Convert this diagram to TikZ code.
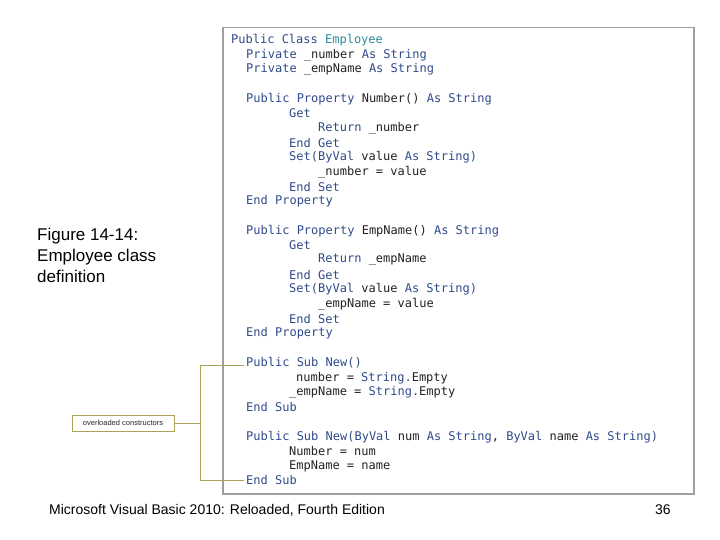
\documentclass[tikz,border=0pt]{standalone}
\usepackage{fontspec}
\setmainfont{Liberation Sans}
\newfontfamily\codefont{DejaVu Sans Mono}
\definecolor{kw}{HTML}{2F4A8A}
\definecolor{tp}{HTML}{2E8A9A}
\definecolor{tx}{HTML}{222222}
\definecolor{olive}{HTML}{A9A257}
\newcommand{\kw}[1]{\textcolor{kw}{#1}}
\begin{document}
\begin{tikzpicture}[x=1pt,y=-1pt,
  code/.style={anchor=west,inner sep=0pt,font=\codefont\fontsize{12}{12}\selectfont,text=tx},
  lbl/.style={anchor=west,inner sep=0pt,font=\fontsize{12}{12}\selectfont},
  brk/.style={draw=olive,line width=0.8pt}]
\useasboundingbox (0,0) rectangle (720,540);
\node[draw=gray!75,line width=1.5pt,minimum width=471pt,minimum height=466pt,anchor=north west,inner sep=0pt] (box) at (222,27) {};
\node[code] (l1) at (231,40) {\kw{Public Class} \textcolor{tp}{Employee}};
\node[code] (l2) at (246,55) {\kw{Private} \_number \kw{As String}};
\node[code] (l3) at (246,69) {\kw{Private} \_empName \kw{As String}};
\node[code] (l4) at (246,99) {\kw{Public Property} Number() \kw{As String}};
\node[code] (l5) at (289,113) {\kw{Get}};
\node[code] (l6) at (318,128) {\kw{Return} \_number};
\node[code] (l7) at (289,143) {\kw{End Get}};
\node[code] (l8) at (289,157) {\kw{Set(ByVal} value \kw{As String)}};
\node[code] (l9) at (318,172) {\_number = value};
\node[code] (l10) at (289,187) {\kw{End Set}};
\node[code] (l11) at (246,201) {\kw{End Property}};
\node[code] (m4) at (246,231) {\kw{Public Property} EmpName() \kw{As String}};
\node[code] (m5) at (289,245) {\kw{Get}};
\node[code] (m6) at (318,260) {\kw{Return} \_empName};
\node[code] (m7) at (289,275) {\kw{End Get}};
\node[code] (m8) at (289,289) {\kw{Set(ByVal} value \kw{As String)}};
\node[code] (m9) at (318,304) {\_empName = value};
\node[code] (m10) at (289,319) {\kw{End Set}};
\node[code] (m11) at (246,333) {\kw{End Property}};
\node[code] (n1) at (246,363) {\kw{Public Sub New()}};
\node[code] (n2) at (296,378) {number = \kw{String.}Empty};
\node[code] (n3) at (289,392) {\_empName = \kw{String.}Empty};
\node[code] (n4) at (246,407) {\kw{End Sub}};
\node[code] (p1) at (246,437) {\kw{Public Sub New(ByVal} num \kw{As String}, \kw{ByVal} name \kw{As String)}};
\node[code] (p2) at (289,451) {Number = num};
\node[code] (p3) at (289,466) {EmpName = name};
\node[code] (p4) at (246,480) {\kw{End Sub}};
% callout
\node[draw=olive,line width=0.6pt,minimum width=102pt,minimum height=16pt,inner sep=0pt,font=\fontsize{7.5}{8}\selectfont,text=gray!30!black] (cb) at (123,423) {overloaded constructors};
\coordinate (bt) at (200,365);
\coordinate (bb) at (200,480);
\coordinate (bm) at (200,423);
\draw[brk] (244,365) -- (bt) -- (bb) -- (244,480);
\draw[brk] (cb.east) -- (bm);
\node[lbl,anchor=north west,align=left,font=\fontsize{17}{21}\selectfont] (cap) at (37,228) {Figure 14-14:\\Employee class\\definition};
\node[lbl,font=\fontsize{14}{14}\selectfont] (foot) at (49,510) {Microsoft Visual Basic 2010: Reloaded, Fourth Edition};
\node[lbl,font=\fontsize{14}{14}\selectfont] (pg) at (655,510) {36};
\end{tikzpicture}
\end{document}
